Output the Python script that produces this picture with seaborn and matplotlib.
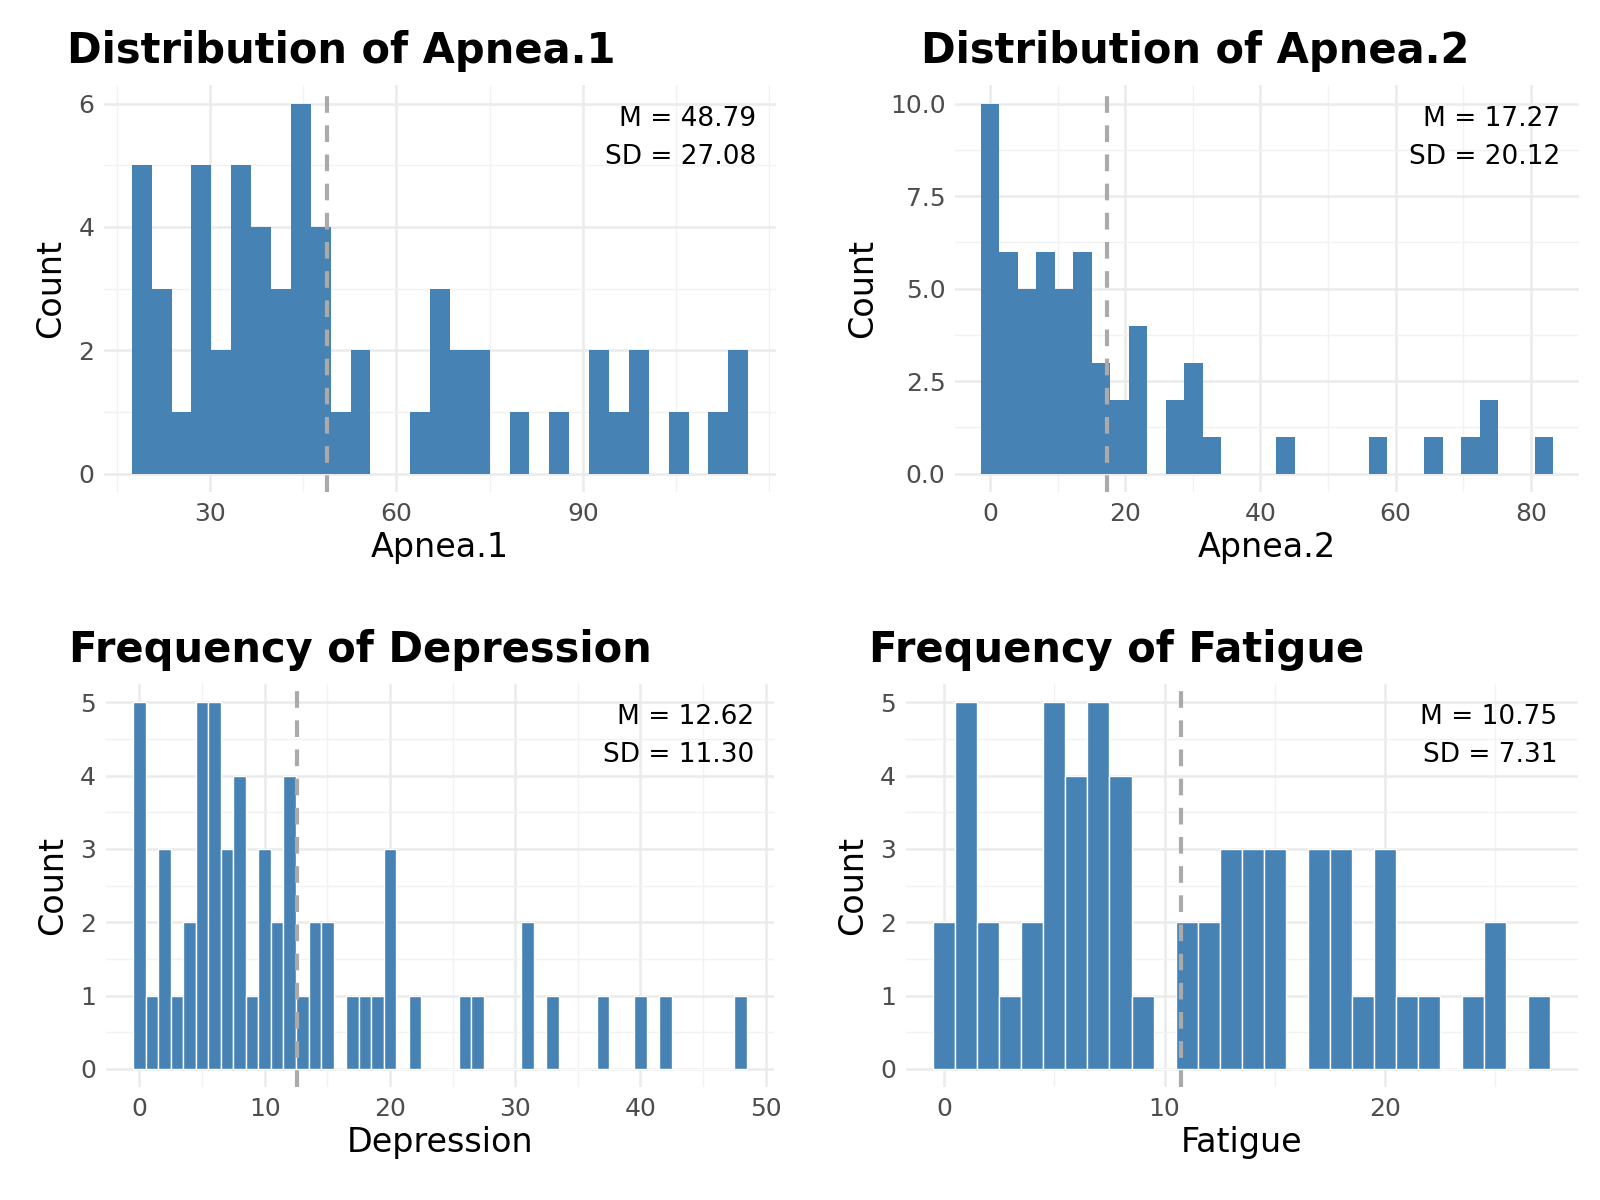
import numpy as np
import matplotlib
matplotlib.use("Agg")
import matplotlib.pyplot as plt
import seaborn as sns
from matplotlib.ticker import MultipleLocator

# ---- data (bin centers and counts) ----
apnea1_counts = [5,3,1,5,2,5,4,3,6,4,1,2,0,0,1,3,2,2,0,1,0,1,0,2,1,2,0,1,0,1,2]
apnea1_first, apnea1_width = 19.0, 3.2
apnea2_counts = [10,6,5,6,5,6,3,2,4,0,2,3,1,0,0,0,1,0,0,0,0,1,0,0,1,0,1,2,0,0,1]
apnea2_first, apnea2_width = 0.0, 2.733
depression_values = list(range(49))
depression_counts = [5,1,3,1,2,5,5,3,4,1,3,2,4,1,2,2,0,1,1,1,3,0,1,0,0,0,1,1,0,0,0,2,0,1,0,0,0,1,0,0,1,0,1,0,0,0,0,0,1]
fatigue_values = list(range(28))
fatigue_counts = [2,5,2,1,2,5,4,5,4,1,0,2,2,3,3,3,0,3,3,1,3,1,1,0,1,2,0,1]

titles = ["Distribution of Apnea.1", "Distribution of Apnea.2", "Frequency of Depression", "Frequency of Fatigue"]
xlabels = ["Apnea.1", "Apnea.2", "Depression", "Fatigue"]
means = [48.79, 17.27, 12.62, 10.75]
sds = [27.08, 20.12, 11.30, 7.31]

sns.set_theme(style="white")
plt.rcParams['font.family'] = ['DejaVu Sans']
fig = plt.figure(figsize=(16, 12), dpi=100)
pos = [[0.065, 0.59, 0.42, 0.339], [0.597, 0.59, 0.39, 0.339],
       [0.066, 0.094, 0.418, 0.336], [0.566, 0.094, 0.42, 0.336]]
COL = "#4682B4"

def centers(first, width, n):
    return [first + width * i for i in range(n)]

specs = [
    (centers(apnea1_first, apnea1_width, len(apnea1_counts)), apnea1_counts, apnea1_width, None, (2, 1), [30, 60, 90]),
    (centers(apnea2_first, apnea2_width, len(apnea2_counts)), apnea2_counts, apnea2_width, None, (2.5, 1.25), [0, 20, 40, 60, 80]),
    (depression_values, depression_counts, 1.0, "white", (1, 0.5), [0, 10, 20, 30, 40, 50]),
    (fatigue_values, fatigue_counts, 1.0, "white", (1, 0.5), [0, 10, 20]),
]

for i, (xc, cnt, w, ec, (maj, mnr), xt) in enumerate(specs):
    ax = fig.add_axes(pos[i])
    edges = [xc[0] - w / 2 + w * k for k in range(len(xc) + 1)]
    sns.histplot(x=xc, weights=cnt, bins=edges, ax=ax, color=COL, alpha=1,
                 edgecolor=ec if ec else COL, linewidth=1.0 if ec else 0)
    ax.axvline(means[i], color="#aaaaaa", ls=(0, (4, 3)), lw=3)
    ax.set_xticks(xt)
    ax.xaxis.set_minor_locator(MultipleLocator((xt[1] - xt[0]) / 2))
    ax.yaxis.set_major_locator(MultipleLocator(maj))
    ax.yaxis.set_minor_locator(MultipleLocator(mnr))
    if i == 1:
        ax.yaxis.set_major_formatter(matplotlib.ticker.FormatStrFormatter('%.1f'))
    ax.grid(True, which="major", color="#ebebeb", lw=1.8)
    ax.grid(True, which="minor", color="#f2f2f2", lw=1.0)
    ax.set_axisbelow(True)
    for s in ax.spines.values():
        s.set_visible(False)
    ax.tick_params(axis="both", which="both", length=0, labelsize=18, labelcolor="#4d4d4d", pad=7)
    ax.set_xlabel(xlabels[i], fontsize=24, labelpad=4, color="black")
    ax.set_ylabel("Count", fontsize=24, labelpad=8, color="black")
    lo, hi = edges[0], edges[-1]
    pad = (hi - lo) * 0.045
    ax.set_xlim(lo - pad, hi + pad)
    ymax = max(cnt)
    ax.set_ylim(-ymax * 0.05, ymax * 1.05)
    ax.set_title(titles[i], loc="left", x=-0.055, fontsize=30, fontweight="bold", pad=16, color="black")
    ax.text(0.97, 0.95, f"M = {means[i]:.2f}\nSD = {sds[i]:.2f}", transform=ax.transAxes,
            ha="right", va="top", fontsize=19, linespacing=1.6, color="black")

fig.savefig("out.png", dpi=100, facecolor="white")
